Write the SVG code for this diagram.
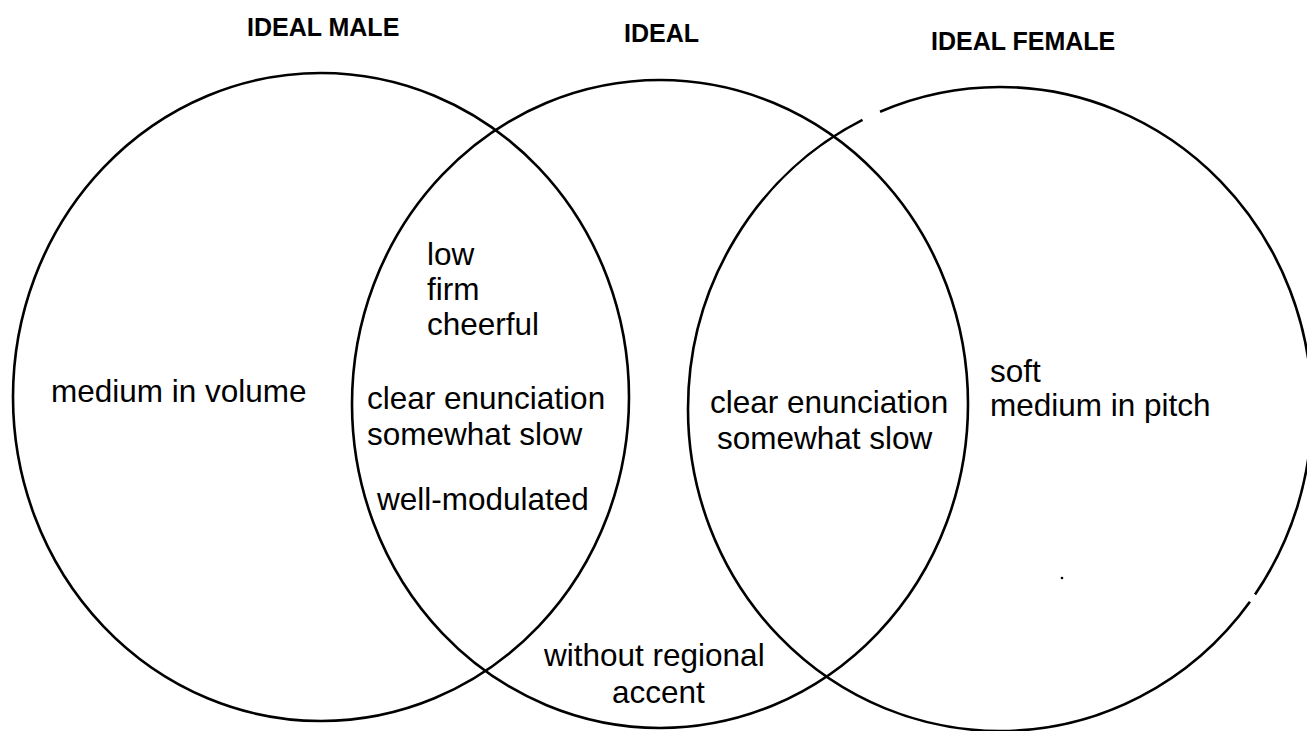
<svg xmlns="http://www.w3.org/2000/svg" width="1307" height="731" viewBox="0 0 1307 731">
  <style>
    .ring { fill: none; stroke: #000; stroke-width: 2.6; }
    .hdr { font-family: "Liberation Sans", Arial, sans-serif; font-weight: bold; font-size: 25px; fill: #000; }
    .lbl { font-family: "Liberation Sans", Arial, sans-serif; font-size: 31.5px; fill: #000; }
  </style>
  <rect x="0" y="0" width="1307" height="731" fill="#fff"/>
  <g id="connectors"></g>
  <g id="ideal-male">
    <ellipse class="ring" cx="321" cy="397" rx="308" ry="324"/>
    <text class="hdr" x="247" y="36">IDEAL MALE</text>
    <text class="lbl" x="51" y="402">medium in volume</text>
  </g>
  <g id="ideal">
    <ellipse class="ring" cx="660" cy="404" rx="308" ry="324"/>
    <text class="hdr" x="624" y="42">IDEAL</text>
  </g>
  <g id="ideal-female">
    <ellipse class="ring" cx="1000" cy="409" rx="312" ry="322" pathLength="360" stroke-dasharray="35.6 1.6 207 3.5 112.3 0"/>
    <text class="hdr" x="931" y="50">IDEAL FEMALE</text>
    <text class="lbl" x="990" y="382">soft</text>
    <text class="lbl" x="990" y="416">medium in pitch</text>
    <circle cx="1062" cy="578" r="1.3" fill="#000"/>
  </g>
  <g id="male-ideal-overlap">
    <text class="lbl" x="427" y="265">low</text>
    <text class="lbl" x="427" y="300">firm</text>
    <text class="lbl" x="427" y="335">cheerful</text>
    <text class="lbl" x="367" y="409">clear enunciation</text>
    <text class="lbl" x="367" y="445">somewhat slow</text>
    <text class="lbl" x="377" y="510">well-modulated</text>
  </g>
  <g id="ideal-female-overlap">
    <text class="lbl" x="710" y="413">clear enunciation</text>
    <text class="lbl" x="717" y="449">somewhat slow</text>
  </g>
  <g id="ideal-bottom">
    <text class="lbl" x="544" y="666">without regional</text>
    <text class="lbl" x="612" y="703">accent</text>
  </g>
</svg>
